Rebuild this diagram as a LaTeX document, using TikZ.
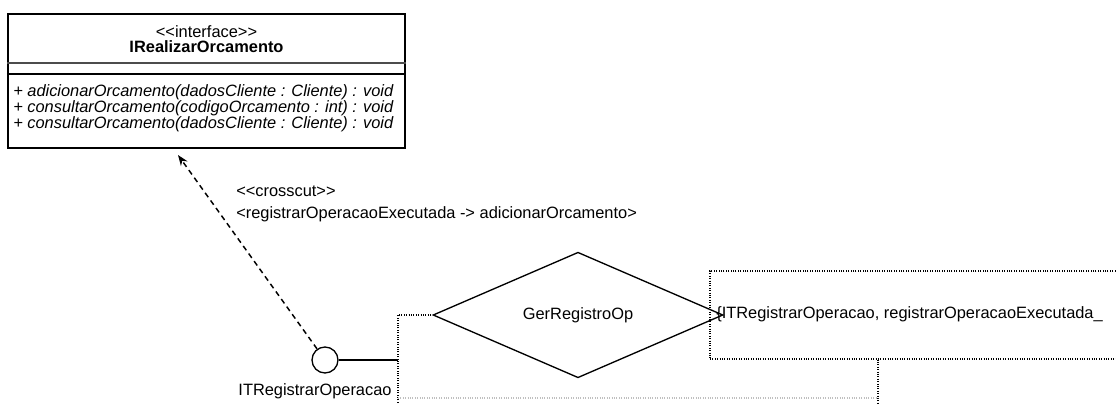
\documentclass[tikz,border=0pt]{standalone}
\usepackage{fontspec}
\usepackage{xcolor}
\usetikzlibrary{shapes.geometric,arrows.meta}
\newfontfamily\umlfont{Liberation Sans}

\begin{document}
\begin{tikzpicture}[x=0.75pt, y=-0.75pt, inner sep=0pt]
		\tikzstyle{every node}=[font=\umlfont\fontsize{12.3}{12}\selectfont]
		\tikzstyle{dots}=[densely dotted, line width=0.8pt]
			\useasboundingbox (0, 0) rectangle (1116, 403);
			\clip (0, 0) rectangle (1116, 403);

			\node (iface) [draw, line width=1.6pt, minimum width=297.75pt, minimum height=100.5pt] at (206.5, 81) {};
			\draw[line width=1.3pt, black!70] (iface.west |- 0, 63) -- (iface.east |- 0, 63);
			\draw[line width=0.9pt] (iface.west |- 0, 74) -- (iface.east |- 0, 74);
			\node (stereo) at (206.5, 32) {<<interface>>};
			\node (ifacename) at (206.5, 47) {\bfseries IRealizarOrcamento};
			\node (ops) [anchor=west, align=left] at (13, 108) {\itshape + adicionarOrcamento(dadosCliente : Cliente) : void\\
				\itshape + consultarOrcamento(codigoOrcamento : int) : void\\
				\itshape + consultarOrcamento(dadosCliente : Cliente) : void};

			\node (ccstereo) [anchor=west] at (236, 191) {<<crosscut>>};
			\node (ccmap) [anchor=west] at (236, 214) {<registrarOperacaoExecutada -> adicionarOrcamento>};

			\node (lolly) [circle, draw, line width=1pt, minimum size=19.5pt] at (325, 360) {};
			\node (lollyname) at (315, 391) {ITRegistrarOperacao};
			\coordinate (ifacetip) at (178, 155);
			\coordinate (jn) at (398, 360);
			\coordinate (jtop) at (398, 315);
			\coordinate (jbot) at (398, 410);

			\node (gerop) [diamond, draw, line width=1pt, minimum width=217.5pt, minimum height=93pt] at (578, 315) {GerRegistroOp};

			\node (ctxbox) [draw, dots, minimum width=322.5pt, minimum height=66pt] at (925, 315) {};
			\node (tuple) [anchor=west] at (716, 314) {\{ITRegistrarOperacao, registrarOperacaoExecutada\_};
			\coordinate (ctxdrop) at (878, 410);
			\coordinate (lowleft) at (398, 398);
			\coordinate (lowright) at (878, 398);

			\draw[line width=1.1pt, dash pattern=on 4pt off 3pt, -{Stealth[length=8pt, width=6pt]}] (lolly) -- (ifacetip);
			\draw[line width=1pt] (lolly) -- (jn);
			\draw[dots] (jbot) -- (jtop) -- (gerop.west);
			\draw[dots] (ctxbox.south -| ctxdrop) -- (ctxdrop);
			\draw[dots, black!25] (lowleft) -- (lowright);
		\end{tikzpicture}
\end{document}
